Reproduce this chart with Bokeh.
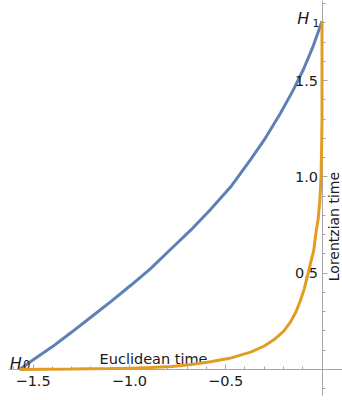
from bokeh.plotting import figure
from bokeh.models import Range1d, FixedTicker, CustomJSTickFormatter, Label
from bokeh.embed import file_html
from bokeh.resources import INLINE

# Blue contour (Euclidean -> Lorentzian, smooth)
blue_x = [-1.571, -1.488, -1.399, -1.301, -1.202, -1.098, -0.994, -0.890, -0.787,
          -0.683, -0.579, -0.475, -0.371, -0.293, -0.215, -0.153, -0.096, -0.049, 0.0]
blue_y = [0.0, 0.058, 0.119, 0.193, 0.270, 0.351, 0.436, 0.524, 0.623,
          0.722, 0.831, 0.947, 1.090, 1.203, 1.332, 1.444, 1.559, 1.671, 1.808]

# Orange contour (along Euclidean axis, then up Lorentzian axis)
orange_x = [-1.571, -1.3, -1.1, -0.995, -0.89, -0.78, -0.68, -0.579, -0.48, -0.371,
            -0.30, -0.25, -0.20, -0.164, -0.135, -0.112, -0.092, -0.077, -0.06,
            -0.043, -0.03, -0.02, -0.011, -0.005, -0.002, 0.0, 0.0]
orange_y = [0.0, 0.002, 0.005, 0.007, 0.010, 0.016, 0.026, 0.040, 0.058, 0.090,
            0.122, 0.154, 0.198, 0.246, 0.300, 0.358, 0.420, 0.479, 0.550,
            0.618, 0.720, 0.780, 0.880, 1.000, 1.150, 1.300, 1.808]

x_major = [-1.5, -1.0, -0.5]
x_minor = [-1.6, -1.4, -1.3, -1.2, -1.1, -0.9, -0.8, -0.7, -0.6, -0.4, -0.3, -0.2, -0.1]
y_major = [0.5, 1.0, 1.5]
y_minor = [-0.1, 0.1, 0.2, 0.3, 0.4, 0.6, 0.7, 0.8, 0.9, 1.1, 1.2, 1.3, 1.4,
           1.6, 1.7, 1.8, 1.9]

FONT = "DejaVu Sans"
AXIS_COLOR = "#a6a6a6"
LABEL_COLOR = "#1a1a1a"

p = figure(width=342, height=400,
           x_range=Range1d(-1.6693, 0.1064), y_range=Range1d(-0.161, 1.9159),
           output_backend="svg", toolbar_location=None, min_border=0)
p.grid.visible = False
p.outline_line_color = None

fmt = CustomJSTickFormatter(code="""
return (tick < 0 ? "\\u2212" : "") + Math.abs(tick).toFixed(1);
""")

for ax, maj, mnr, bnd in ((p.xaxis[0], x_major, x_minor, (-1.6277, 0.1064)),
                          (p.yaxis[0], y_major, y_minor, (-0.135, 1.9159))):
    ax.fixed_location = 0
    ax.bounds = bnd
    ax.ticker = FixedTicker(ticks=maj, minor_ticks=mnr)
    ax.formatter = fmt
    ax.axis_line_color = AXIS_COLOR
    ax.axis_line_width = 1
    ax.major_tick_line_color = AXIS_COLOR
    ax.minor_tick_line_color = AXIS_COLOR
    ax.major_tick_in = 5
    ax.major_tick_out = 0
    ax.minor_tick_in = 3
    ax.minor_tick_out = 0
    ax.major_label_text_font = FONT
    ax.major_label_text_font_size = "14.5px"
    ax.major_label_text_color = LABEL_COLOR
p.xaxis[0].major_label_standoff = 7
p.yaxis[0].major_label_standoff = 4

p.line(blue_x, blue_y, line_color="#5E81B5", line_width=3)
p.line(orange_x, orange_y, line_color="#E19C24", line_width=3, level="overlay")

def lab(x, y, text, size, italic=False, angle=0.0, align="left", baseline="alphabetic"):
    p.add_layout(Label(x=x, y=y, text=text, text_font=FONT, text_font_size=size,
                       text_font_style="italic" if italic else "normal",
                       text_color=LABEL_COLOR, text_baseline=baseline,
                       text_align=align, angle=angle))

lab(-1.621, 0.033, "H", "16px", italic=True)
lab(-1.553, 0.024, "0", "11.5px")
lab(-0.1288, 1.821, "H", "16px", italic=True)
lab(-0.049, 1.798, "1", "11px")
lab(-1.155, 0.052, "Euclidean time", "14.5px")
lab(0.0597, 0.742, "Lorentzian time", "14px", angle=1.5708, align="center",
    baseline="middle")

open("out.html", "w").write(file_html(p, INLINE))
